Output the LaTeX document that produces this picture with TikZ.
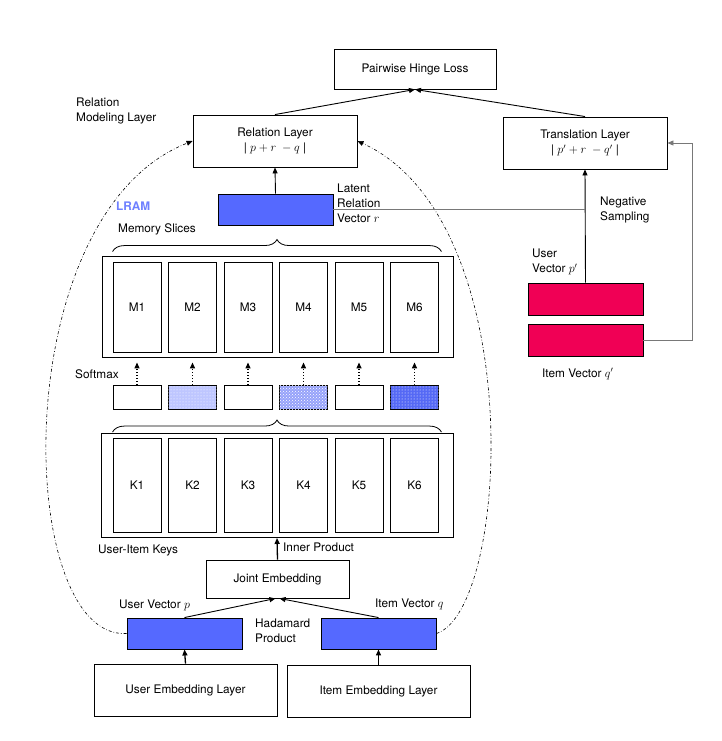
\documentclass[tikz,border=0pt]{standalone}
\usepackage{fontspec}
\setmainfont{TeX Gyre Heros}
\usetikzlibrary{arrows.meta,decorations.pathreplacing,patterns}

\definecolor{lramblue}{RGB}{85,105,255}
\definecolor{negred}{RGB}{240,0,85}
\definecolor{softa}{RGB}{190,198,255}
\definecolor{softb}{RGB}{150,162,250}
\definecolor{softc}{RGB}{85,105,245}
\definecolor{linkgray}{RGB}{120,120,120}

\begin{document}
\begin{tikzpicture}[x=1pt,y=-1pt,
                    font=\fontsize{11.8}{15}\selectfont,
                    box/.style={draw,line width=0.9pt,align=center,inner sep=0pt},
                    vec/.style={box,fill=lramblue},
                    neg/.style={box,fill=negred},
                    slot/.style={box,minimum width=48pt},
                    lbl/.style={align=left,anchor=west,inner sep=0pt},
                    arr/.style={-{Triangle[length=6pt,width=5pt]},line width=0.9pt},
                    brc/.style={decorate,decoration={brace,amplitude=12pt},line width=0.8pt}]
  \useasboundingbox (0,0) rectangle (721,741);

  % top of the model
  \node[box,minimum width=162pt,minimum height=40pt] (loss) at (415,69) {Pairwise Hinge Loss};
  \node[box,minimum width=164pt,minimum height=52pt] (rel) at (275,141)
       {Relation Layer\\ | $p+r\ -q$ |};
  \node[box,minimum width=164pt,minimum height=52pt] (trans) at (585,143)
       {Translation Layer\\ | $p'+r\ -q'$ |};
  \draw[arr] (rel.north) -- (loss.south);
  \draw[arr] (trans.north) -- (loss.south);

  \node[lbl] (rmlbl) at (76,111) {Relation\\Modeling Layer};
  \node[lbl,text=lramblue!85,font=\fontsize{11.8}{15}\selectfont\bfseries] (lram) at (116,206) {LRAM};

  % latent relation vector
  \node[vec,minimum width=115pt,minimum height=31pt] (lat) at (275.5,209.5) {};
  \node[lbl] (latlbl) at (337,203) {Latent\\Relation\\Vector $r$};
  \draw[arr] (lat.north) -- (rel.south);

  % memory slices
  \node[lbl] (memlbl) at (118,229) {Memory Slices};
  \node[box,minimum width=351pt,minimum height=101pt] (mem) at (277.5,306.5) {};
  \foreach \i in {1,...,6}
    \node[slot,minimum height=90pt] (m\i) at ({137+55.5*(\i-1)},307) {M\i};
  \draw[brc] ([xshift=11pt,yshift=4pt]mem.north west) -- ([xshift=-12pt,yshift=4pt]mem.north east);

  % softmax weights
  \node[lbl] (smlbl) at (75,374) {Softmax};
  \foreach \i/\c in {1/white,2/softa,3/white,4/softb,5/white,6/softc} {
    \node[slot,minimum height=24pt,fill=\c] (s\i) at ({137+55.5*(\i-1)},397) {};
    \draw[arr,dotted,line width=1.3pt,shorten >=10pt] (s\i.north) -- (m\i.south);
  }
  \foreach \i/\p in {2/dots,4/crosshatch dots,6/dots}
    \fill[pattern=\p,pattern color=white] (s\i.south west) rectangle (s\i.north east);

  % user-item keys
  \node[box,minimum width=352pt,minimum height=104pt] (keys) at (277,485.5) {};
  \foreach \i in {1,...,6}
    \node[slot,minimum height=94pt] (k\i) at ({137+55.5*(\i-1)},485) {K\i};
  \draw[brc] ([xshift=12pt,yshift=1pt]keys.north west) -- ([xshift=-12pt,yshift=1pt]keys.north east);
  \node[lbl] (keylbl) at (98,550) {User-Item Keys};

  % joint embedding
  \node[box,minimum width=143pt,minimum height=38pt] (joint) at (277.5,579) {Joint Embedding};
  \draw[arr,line width=1.3pt] (joint.north) -- (keys.south);
  \node[lbl] (iplbl) at (283,547) {Inner Product};

  % user and item vectors
  \node[vec,minimum width=115pt,minimum height=31pt] (uvec) at (184.5,633.5) {};
  \node[vec,minimum width=115pt,minimum height=31pt] (ivec) at (378.5,633.5) {};
  \node[lbl] (uvlbl) at (119,605) {User Vector $p$};
  \node[lbl] (ivlbl) at (375,604) {Item Vector $q$};
  \node[lbl] (hplbl) at (255,631) {Hadamard\\Product};
  \draw[arr] (uvec.north) -- ([xshift=-2pt]joint.south);
  \draw[arr] (ivec.north) -- ([xshift=2pt]joint.south);

  % embedding layers
  \node[box,minimum width=183pt,minimum height=52pt] (uemb) at (185.5,690) {User Embedding Layer};
  \node[box,minimum width=183pt,minimum height=52pt] (iemb) at (378.5,691) {Item Embedding Layer};
  \draw[arr,line width=1.3pt] (uemb.north) -- (uvec.south);
  \draw[arr,line width=1.3pt] (iemb.north) -- (ivec.south);

  % LRAM loop back to relation layer
  \draw[arr,line width=0.6pt,dash dot] (uvec.west) .. controls (15,640) and (5,215) .. (rel.west);
  \draw[arr,line width=0.6pt,dash dot] (ivec.east) .. controls (510,610) and (530,220) .. (rel.east);

  % negative sampling
  \node[neg,minimum width=115pt,minimum height=32pt] (upneg) at (585.5,299) {};
  \node[neg,minimum width=115pt,minimum height=32pt] (iqneg) at (585.5,340) {};
  \node[lbl] (upneglbl) at (532,262) {User\\Vector $p'$};
  \node[lbl] (iqneglbl) at (542,374) {Item Vector $q'$};
  \node[lbl] (nslbl) at (600,210) {Negative\\Sampling};
  \draw[arr] (upneg.north) -- (trans.south);
  \draw[linkgray,line width=0.9pt] (lat.east) -- (lat.east -| trans.south);
  \coordinate (loop) at (692,340);
  \draw[arr,linkgray] (iqneg.east) -- (loop) |- (trans.east);
\end{tikzpicture}
\end{document}
